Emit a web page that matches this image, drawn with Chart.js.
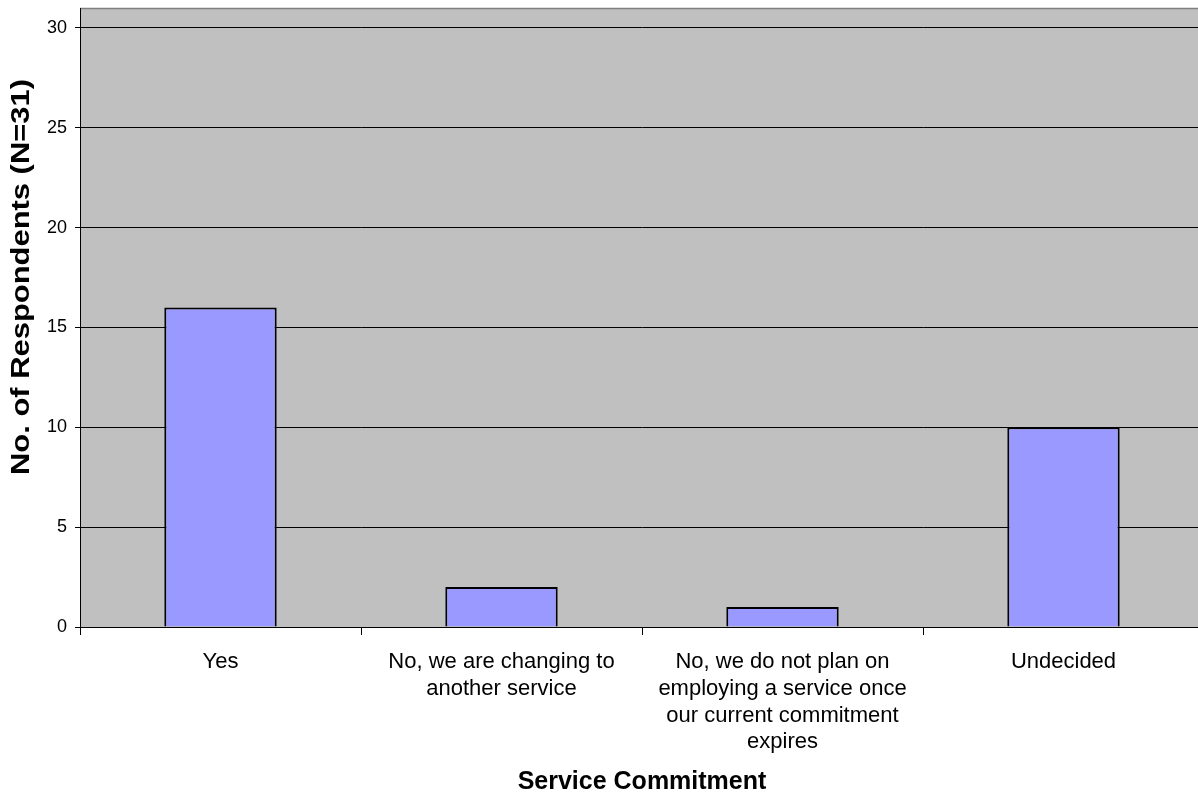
<!DOCTYPE html>
<html>
<head>
<meta charset="utf-8">
<script src="https://cdn.jsdelivr.net/npm/chart.js@4/dist/chart.umd.min.js"></script>
<style>
html,body{margin:0;padding:0;background:#fff;overflow:hidden;}
#wrap{width:1210px;height:795px;}
</style>
</head>
<body>
<div id="wrap"><canvas id="c" width="1210" height="795"></canvas></div>
<script>
const categories = [
  "Yes",
  ["No, we are changing to", "another service"],
  ["No, we do not plan on", "employing a service once", "our current commitment", "expires"],
  "Undecided"
];
const respondents = [16, 2, 1, 10];
const yTickValues = [0, 5, 10, 15, 20, 25, 30];
const yMax = 31;
const xTitle = "Service Commitment";
const yTitle = "No. of Respondents (N=31)";

const FONT = "'Liberation Sans', Arial, sans-serif";

const plotBg = {
  id: 'plotBg',
  beforeDraw(chart) {
    const {ctx, chartArea: a} = chart;
    ctx.save();
    ctx.fillStyle = '#C0C0C0';
    ctx.fillRect(a.left, a.top, a.right - a.left, a.bottom - a.top);
    ctx.strokeStyle = '#808080';
    ctx.lineWidth = 1.5;
    ctx.beginPath();
    ctx.moveTo(a.left, a.top + 0.5);
    ctx.lineTo(a.right, a.top + 0.5);
    ctx.stroke();
    ctx.restore();
  },
  afterDraw(chart) {
    const {ctx} = chart;
    ctx.save();
    ctx.translate(22, 277);
    ctx.rotate(-Math.PI / 2);
    ctx.font = "bold 26px " + FONT;
    ctx.fillStyle = '#000';
    ctx.textAlign = 'center';
    ctx.textBaseline = 'middle';
    const w = ctx.measureText(yTitle).width;
    ctx.scale(396 / w, 1);
    ctx.fillText(yTitle, 0, 0);
    ctx.restore();
  }
};

new Chart(document.getElementById('c'), {
  type: 'bar',
  data: {
    labels: categories,
    datasets: [{
      data: respondents,
      backgroundColor: '#9999FF',
      borderColor: '#000000',
      borderWidth: 2,
      barPercentage: 0.4,
      categoryPercentage: 1.0
    }]
  },
  options: {
    responsive: false,
    animation: false,
    devicePixelRatio: 1,
    layout: {padding: {left: 0, right: 6, top: 8, bottom: 0}},
    plugins: {legend: {display: false}, tooltip: {enabled: false}},
    scales: {
      x: {
        grid: {display: true, offset: true, drawOnChartArea: false, drawTicks: true, tickLength: 8, tickColor: '#000', tickWidth: 1},
        border: {display: true, color: '#000', width: 1},
        ticks: {color: '#000', font: {family: FONT, size: 22, lineHeight: 1.21}, padding: 14, maxRotation: 0, autoSkip: false},
        title: {display: true, text: xTitle, color: '#000', font: {family: FONT, size: 25, weight: 'bold', lineHeight: 1}, padding: {top: 0, bottom: 0}},
        afterFit(scale) { scale.height = 168; scale.paddingLeft = 0; scale.paddingRight = 0; }
      },
      y: {
        min: 0,
        max: yMax,
        afterBuildTicks(scale) { scale.ticks = yTickValues.map(v => ({value: v})); },
        grid: {color: '#000', lineWidth: 1, drawTicks: true, tickLength: 5, tickColor: '#000'},
        border: {display: true, color: '#000', width: 1},
        ticks: {color: '#000', font: {family: FONT, size: 18}, padding: 8},
        afterFit(scale) { scale.width = 80; scale.paddingTop = 0; scale.paddingBottom = 0; }
      }
    }
  },
  plugins: [plotBg]
});
</script>
</body>
</html>
